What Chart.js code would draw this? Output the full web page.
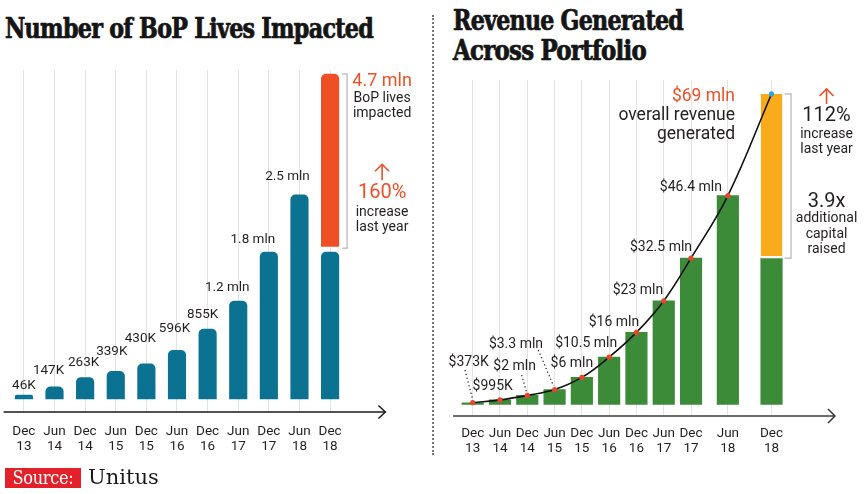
<!DOCTYPE html>
<html><head><meta charset="utf-8">
<script src="https://cdn.jsdelivr.net/npm/chart.js@4.4.1/dist/chart.umd.min.js"></script>
<style>
html,body{margin:0;padding:0;background:#fff;}
body{width:865px;height:494px;position:relative;overflow:hidden;font-family:Roboto,sans-serif;}
canvas{position:absolute;left:0;top:0;}
.title{position:absolute;font-family:"DejaVu Serif Condensed","DejaVu Serif",serif;font-weight:bold;color:#151515;white-space:nowrap;transform-origin:0 0;line-height:1;letter-spacing:-0.8px;-webkit-text-stroke:0.7px #151515;}
#divider{position:absolute;left:432px;top:15px;height:440px;border-left:2px dotted #777;}
#srcbox{position:absolute;left:5px;top:468px;height:20px;width:76px;background:#e4202a;color:#fff;font-family:"DejaVu Serif Condensed","DejaVu Serif",serif;font-size:18px;line-height:20px;text-align:center;letter-spacing:-0.3px;}
#src{position:absolute;left:88px;top:464px;font-family:"DejaVu Serif",serif;font-size:21px;line-height:27px;color:#1a1a1a;}
</style></head>
<body>
<div id="t1" class="title" data-w="368" style="left:5px;top:15px;font-size:27px">Number of BoP Lives Impacted</div>
<div id="t2" class="title" data-w="230" style="left:453px;top:7px;font-size:27px">Revenue Generated</div>
<div id="t3" class="title" data-w="193" style="left:453px;top:37px;font-size:27px">Across Portfolio</div>
<div id="divider"></div>
<canvas id="left" width="865" height="494"></canvas>
<canvas id="right" width="865" height="494"></canvas>
<div id="srcbox">Source:</div>
<div id="src">Unitus</div>
<script>
// ---------- data: BoP lives impacted (millions) ----------
const livesPeriods = [['Dec','13'],['Jun','14'],['Dec','14'],['Jun','15'],['Dec','15'],['Jun','16'],['Dec','16'],['Jun','17'],['Dec','17'],['Jun','18'],['Dec','18']];
const livesValues = [0.046,0.147,0.263,0.339,0.430,0.596,0.855,1.2,1.8,2.5,1.8];
const livesValueLabels = ['46K','147K','263K','339K','430K','596K','855K','1.2 mln','1.8 mln','2.5 mln',''];
// Dec 18 gain segment as drawn in the picture (not to scale: total is 4.7 mln)
const livesDec18Segment = [1.87, 3.98];
const livesTotalLabel = '4.7 mln';
const livesIncreaseLabel = '160%';

// ---------- data: revenue generated ($ millions) ----------
const revenuePeriods = [['Dec','13'],['Jun','14'],['Dec','14'],['Jun','15'],['Dec','15'],['Jun','16'],['Dec','16'],['Jun','17'],['Dec','17'],['Jun','18'],['Dec','18']];
const revenueBars = [0.373,0.995,2,3.3,6,10.5,16,23,32.5,46.4,32.5];
const revenueLine = [0.373,0.995,2,3.3,6,10.5,16,23,32.5,46.4,69];
const revenueValueLabels = ['$373K','$995K','$2 mln','$3.3 mln','$6 mln','$10.5 mln','$16 mln','$23 mln','$32.5 mln','$46.4 mln',''];
const revenueDec18Segment = [32.5, 69];
const revenueTotalLabel = '$69 mln';
const revenueIncreaseLabel = '112%';
const capitalLabel = '3.9x';

// ---------- layout (not data) ----------
const revenueSlots = [0,1,2,3,4,5,6,7,8,9.35,10.95];
const livesLabelNudge = [[0,-10],[-6,-16],[-1.5,-14.5],[-4,-19.5],[-6,-25],[-2.5,-22],[-5,-15],[-11,-13],[-16,-12],[-12,-18]];
const revenueLabelNudge = [[-4,-40.5],[-7.3,-13.2],[-12.6,-28.7],[-38.6,-44.6],[-10,-13.4],[-23,-13.2],[-22.5,-10],[-25.8,-10.2],[-30,-11],[-37,-8]];
const revenueLeaders = {0:[[-7.7,-32.7],[0,-3]],2:[[-5.6,-20.4],[-0.5,-2.5]],3:[[-16.3,-39.6],[-1,-3.5]]};

const INK = '#231f20', TEAL = '#0b7391', RED = '#ef4f24', GREEN = '#3c8b38', GOLD = '#f9ab1c', GRID = '#e3e3e3';
Chart.defaults.font.family = 'Roboto';
Chart.defaults.color = INK;

document.querySelectorAll('.title').forEach(el=>{
  const w = el.getBoundingClientRect().width;
  el.style.transform = 'scaleX(' + (el.dataset.w / w) + ')';
});

function arrowUp(ctx, cx, y0, y1, color){
  ctx.save(); ctx.strokeStyle=color; ctx.lineWidth=1.6;
  ctx.beginPath(); ctx.moveTo(cx,y1); ctx.lineTo(cx,y0); ctx.stroke();
  ctx.beginPath(); ctx.moveTo(cx-7,y0+7); ctx.lineTo(cx,y0); ctx.lineTo(cx+7,y0+7); ctx.stroke();
  ctx.restore();
}
function text(ctx, t, x, y, size, color, align){
  ctx.font = size + 'px Roboto'; ctx.fillStyle = color; ctx.textAlign = align || 'center'; ctx.textBaseline = 'middle';
  ctx.fillText(t, x, y);
}

const leftDecor = {
  id:'leftDecor',
  afterDatasetsDraw(chart){
    const {ctx, chartArea, scales:{x, y}} = chart;
    ctx.save();
    const ay = chartArea.bottom, ax0 = chartArea.left - 5, ax1 = chartArea.right + 40;
    ctx.strokeStyle = '#1a1a1a'; ctx.lineWidth = 1.5;
    ctx.beginPath(); ctx.moveTo(ax0, ay); ctx.lineTo(ax1, ay); ctx.stroke();
    ctx.beginPath(); ctx.moveTo(ax1-7, ay-6.5); ctx.lineTo(ax1, ay); ctx.lineTo(ax1-7, ay+6.5); ctx.stroke();
    livesValueLabels.forEach((t,i)=>{
      if(!t) return;
      const o = livesLabelNudge[i];
      text(ctx, t, x.getPixelForValue(i)+o[0], y.getPixelForValue(livesValues[i])+o[1], 13.5, INK);
    });
    const last = livesValues.length-1, bx = x.getPixelForValue(last);
    const top = y.getPixelForValue(livesDec18Segment[1]), bot = y.getPixelForValue(livesDec18Segment[0]);
    ctx.strokeStyle = '#c3c3c3'; ctx.lineWidth = 1.5;
    ctx.beginPath(); ctx.moveTo(bx+12, top); ctx.lineTo(bx+17, top); ctx.lineTo(bx+17, bot+2); ctx.lineTo(bx+12, bot+2); ctx.stroke();
    const cx = bx + 52;
    text(ctx, livesTotalLabel, cx, top+7, 18, RED);
    text(ctx, 'BoP lives', cx, top+24, 14, INK);
    text(ctx, 'impacted', cx, top+39, 14, INK);
    arrowUp(ctx, cx, bot-82, bot-66, RED);
    text(ctx, livesIncreaseLabel, cx, bot-53, 20, RED);
    text(ctx, 'increase', cx, bot-34, 14, INK);
    text(ctx, 'last year', cx, bot-18.5, 14, INK);
    ctx.restore();
  }
};

new Chart(document.getElementById('left'), {
  type:'bar',
  data:{
    labels: livesPeriods,
    datasets:[
      {data: livesValues, backgroundColor: TEAL, barThickness: 17.5, grouped:false,
       borderRadius:{topLeft:5, topRight:5, bottomLeft:0, bottomRight:0}, borderSkipped:'start', order:2},
      {data: livesValues.map((v,i)=> i===livesValues.length-1 ? livesDec18Segment : null), backgroundColor: RED,
       barThickness: 17.5, grouped:false, borderRadius:{topLeft:5, topRight:5, bottomLeft:0, bottomRight:0}, borderSkipped:false, order:1}
    ]
  },
  options:{
    responsive:false, animation:false, devicePixelRatio:1,
    layout:{padding:{left:7.65, right:519.6, top:70, bottom:0}},
    plugins:{legend:{display:false}, tooltip:{enabled:false}},
    scales:{
      x:{type:'category', offset:true, grid:{offset:false, color:GRID, drawTicks:false}, border:{display:false},
         ticks:{font:{size:13.5, lineHeight:1.12}, color:INK, padding:12, maxRotation:0, autoSkip:false},
         afterFit(s){ s.height = 82; }},
      y:{display:false, min:-0.16, max:4.03}
    }
  },
  plugins:[leftDecor]
});

const rightDecor = {
  id:'rightDecor',
  afterDatasetsDraw(chart){
    const {ctx, chartArea, scales:{x, y}} = chart;
    ctx.save();
    const ay = chartArea.bottom, ax0 = chartArea.left - 0.5, ax1 = chartArea.right + 43;
    ctx.strokeStyle = '#3a3a3a'; ctx.lineWidth = 1.5;
    ctx.beginPath(); ctx.moveTo(ax0, ay); ctx.lineTo(ax1, ay); ctx.stroke();
    ctx.beginPath(); ctx.moveTo(ax1-7, ay-7); ctx.lineTo(ax1, ay); ctx.lineTo(ax1-7, ay+7); ctx.stroke();
    ctx.strokeStyle = '#333'; ctx.lineWidth = 1.3; ctx.setLineDash([1.3,2.6]);
    Object.keys(revenueLeaders).forEach(k=>{
      const i = +k, px = x.getPixelForValue(revenueSlots[i]), py = y.getPixelForValue(revenueLine[i]);
      const [a,b] = revenueLeaders[k];
      ctx.beginPath(); ctx.moveTo(px+a[0], py+a[1]); ctx.lineTo(px+b[0], py+b[1]); ctx.stroke();
    });
    ctx.setLineDash([]);
    revenueValueLabels.forEach((t,i)=>{
      if(!t) return;
      const o = revenueLabelNudge[i];
      text(ctx, t, x.getPixelForValue(revenueSlots[i])+o[0], y.getPixelForValue(revenueLine[i])+o[1], 14, INK);
    });
    const last = revenueSlots.length-1, bx = x.getPixelForValue(revenueSlots[last]);
    const top = y.getPixelForValue(revenueDec18Segment[1]), bot = y.getPixelForValue(revenueDec18Segment[0]);
    ctx.strokeStyle = '#c3c3c3'; ctx.lineWidth = 1.5;
    ctx.beginPath(); ctx.moveTo(bx+13, top); ctx.lineTo(bx+19.5, top); ctx.lineTo(bx+19.5, bot); ctx.lineTo(bx+13, bot); ctx.stroke();
    const rx = bx - 36.5;
    text(ctx, revenueTotalLabel, rx, top+3, 17.5, RED, 'right');
    text(ctx, 'overall revenue', rx, top+22, 17.5, INK, 'right');
    text(ctx, 'generated', rx, top+40.5, 17.5, INK, 'right');
    const cx = bx + 55;
    arrowUp(ctx, cx, top-5, top+10, RED);
    text(ctx, revenueIncreaseLabel, cx, top+22.5, 20, INK);
    text(ctx, 'increase', cx, top+41, 14, INK);
    text(ctx, 'last year', cx, top+55.5, 14, INK);
    text(ctx, capitalLabel, cx, bot-56.5, 20, INK);
    text(ctx, 'additional', cx, bot-39.5, 14, INK);
    text(ctx, 'capital', cx, bot-24, 14, INK);
    text(ctx, 'raised', cx, bot-8.5, 14, INK);
    ctx.restore();
  }
};

new Chart(document.getElementById('right'), {
  type:'bar',
  data:{
    datasets:[
      {type:'line', data: revenueSlots.map((s,i)=>({x:s, y:revenueLine[i]})), borderColor:'#111', borderWidth:1.6,
       tension:0.4, pointRadius:2.6, pointBorderWidth:0,
       pointBackgroundColor: revenueLine.map((v,i)=> i===revenueLine.length-1 ? '#2aa9e0' : '#e8452c'), order:0},
      {type:'bar', data: revenueSlots.map((s,i)=>({x:s, y:revenueBars[i]})), backgroundColor: GREEN,
       barThickness:21.5, grouped:false, order:2},
      {type:'bar', data: [{x: revenueSlots[revenueSlots.length-1], y: revenueDec18Segment}], backgroundColor: GOLD,
       borderColor:'#fff', borderWidth:{top:0,left:0,right:0,bottom:2.5}, borderSkipped:false,
       barThickness:21.5, grouped:false, order:1}
    ]
  },
  options:{
    responsive:false, animation:false, devicePixelRatio:1,
    layout:{padding:{left:453.6, right:73, top:80, bottom:0}},
    plugins:{legend:{display:false}, tooltip:{enabled:false}},
    scales:{
      x:{type:'linear', min:-0.7, max:11.7, offset:false, grid:{offset:false, color:GRID, drawTicks:false}, border:{display:false},
         afterBuildTicks(s){ s.ticks = revenueSlots.map(v=>({value:v})); },
         ticks:{font:{size:13.5, lineHeight:1.12}, color:INK, padding:10, maxRotation:0, autoSkip:false,
           callback(v){ const i = revenueSlots.indexOf(v); return i>=0 ? revenuePeriods[i] : ''; }},
         afterFit(s){ s.height = 78; }},
      y:{display:false, min:-2.58, max:72.1}
    }
  },
  plugins:[rightDecor]
});
</script>
</body></html>
